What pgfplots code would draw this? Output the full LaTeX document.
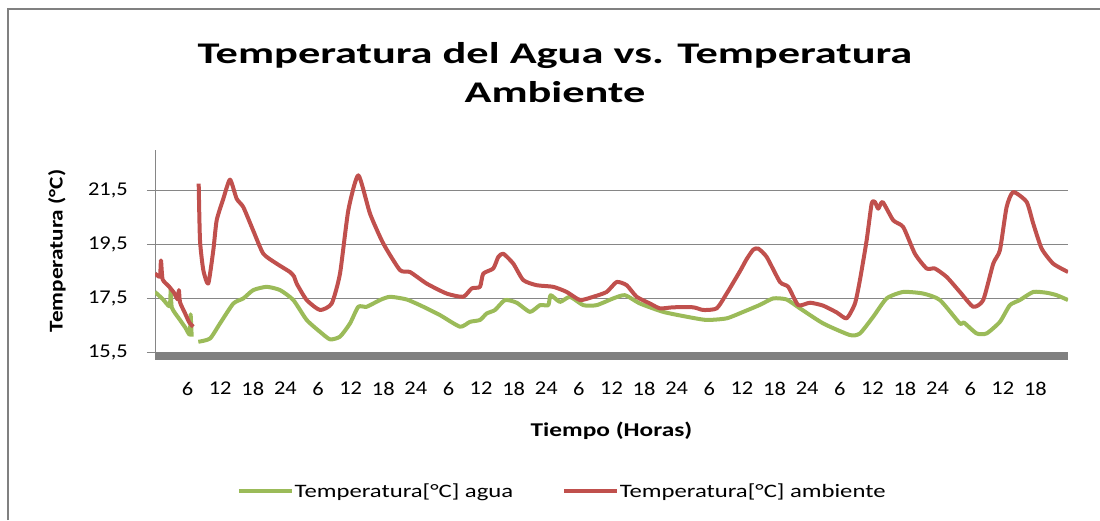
\documentclass[border=0pt]{standalone}
\usepackage{pgfplots}
\pgfplotsset{compat=1.18}
\usepackage{fontspec}
\setmainfont{Carlito}
\usepackage{graphicx}
\definecolor{agua}{RGB}{155,187,89}
\definecolor{amb}{RGB}{192,80,77}
\definecolor{gridc}{RGB}{134,134,134}
\definecolor{barc}{RGB}{128,128,128}
\newcommand\sx[1]{\scalebox{1.15}[1]{#1}}
\newcommand\slg[1]{\scalebox{1.3}[1]{#1}}
\begin{document}
\begin{tikzpicture}
\useasboundingbox (0pt,-520pt) rectangle (1100pt,0pt);
\draw[barc, line width=2pt] (8pt,-520pt) -- (8pt,-9pt) -- (1100pt,-9pt);
\node[font=\fontsize{30}{36}\selectfont\bfseries, anchor=base, inner sep=0pt] at (555pt,-63pt) {\scalebox{1.48}[1]{Temperatura del Agua vs. Temperatura}};
\node[font=\fontsize{30}{36}\selectfont\bfseries, anchor=base, inner sep=0pt] at (555pt,-102pt) {\scalebox{1.48}[1]{Ambiente}};
\begin{axis}[
  at={(155pt,-352pt)}, anchor=south west,
  width=913pt, height=202pt, scale only axis,
  xmin=0, xmax=168, ymin=15.5, ymax=23,
  axis x line*=bottom, axis y line*=left,
  axis line style={-},
  x axis line style={draw=none},
  y axis line style={gridc, line width=1pt},
  xtick={6,12,...,162},
  xticklabels={\sx{6},\sx{12},\sx{18},\sx{24},\sx{6},\sx{12},\sx{18},\sx{24},\sx{6},\sx{12},\sx{18},\sx{24},\sx{6},\sx{12},\sx{18},\sx{24},\sx{6},\sx{12},\sx{18},\sx{24},\sx{6},\sx{12},\sx{18},\sx{24},\sx{6},\sx{12},\sx{18}},
  ytick={15.5,17.5,19.5,21.5},
  yticklabels={\sx{15,5},\sx{17,5},\sx{19,5},\sx{21,5}},
  xtick style={draw=none},
  ytick style={gridc, line width=1pt},
  ytick align=outside, major tick length=8pt,
  ymajorgrids, grid style={gridc, line width=1pt},
  tick label style={font=\fontsize{19.5}{22}\selectfont, inner sep=0pt},
  yticklabel style={anchor=east, xshift=-19pt},
  xticklabel style={anchor=north, yshift=-30pt},
  xlabel={\slg{\textbf{Tiempo (Horas)}}},
  ylabel={\scalebox{1.19}[1]{\textbf{Temperatura (°C)}}},
  label style={font=\fontsize{19.5}{22}\selectfont},
  xlabel style={at={(axis description cs:0.5,-0.391)}, anchor=center},
  ylabel style={at={(axis description cs:-0.1073,0.5)}, anchor=center},
  unbounded coords=jump,
  legend style={at={(0.0898,-0.688)}, anchor=west, draw=none, fill=none,
    legend columns=2, inner sep=0pt, font=\fontsize{19}{22}\selectfont,
    nodes={inner sep=1pt},
    /tikz/every even column/.append style={column sep=48pt}},
  legend cell align=left,
  legend image code/.code={\draw[#1, line width=3.5pt] (0pt,0pt) -- (53pt,0pt);},
]
\addplot[agua, line width=4pt, line join=round, smooth, tension=0.35] coordinates {
(0,17.73) (1.5,17.45) (2.7,17.2) (2.9,17.85) (3.1,17.15) (4.6,16.69) (5.6,16.4) (6.4,16.15) (6.55,16.9) (6.75,16.07) (7.4,nan)
(7.97,15.88) (10.12,16.0) (11.96,16.56) (14.41,17.3) (16.25,17.49) (18.09,17.8) (20.55,17.92) (23.0,17.8) (25.45,17.43) (27.91,16.69) (30.36,16.25) (32.2,15.97) (34.04,16.07) (35.88,16.56) (37.41,17.18) (38.95,17.18) (41.4,17.43) (43.24,17.55) (46.31,17.45) (49.37,17.18) (52.44,16.87) (56.12,16.44) (57.96,16.62) (59.8,16.69) (61.03,16.93) (62.56,17.06) (64.4,17.43) (66.55,17.33) (69.0,16.99) (70.84,17.24) (72.37,17.24) (72.8,17.61) (74.52,17.36) (76.36,17.55) (78.8,17.24) (81.27,17.24) (84.32,17.49) (86.48,17.61) (89.24,17.3) (93.52,16.99) (97.83,16.81) (101.5,16.69) (105.19,16.75) (108.24,16.99) (111.31,17.25) (113.76,17.49) (116.22,17.45) (118.68,17.12) (122.96,16.56) (127.87,16.13) (129.71,16.19) (132.16,16.81) (134.63,17.49) (137.68,17.73) (141.36,17.67) (144.43,17.43) (148.11,16.56) (148.8,16.6) (151.18,16.19) (153.02,16.19) (155.47,16.62) (157.31,17.24) (159.15,17.43) (161.6,17.73) (164.07,17.7) (165.91,17.61) (168,17.43)
};
\addlegendentry{\slg{Temperatura[°C] agua}}
\addplot[amb, line width=4pt, line join=round, smooth, tension=0.35] coordinates {
(0,18.42) (0.9,18.3) (1.1,18.9) (1.4,18.2) (2.5,17.95) (3.5,17.7) (4.2,17.45) (4.4,17.8) (4.6,17.35) (5.5,16.95) (6.3,16.6) (7.05,16.44) (7.5,nan)
(8.04,21.75) (8.28,19.65) (8.89,18.54) (9.8,18.04) (10.73,19.28) (11.35,20.39) (12.57,21.19) (13.8,21.9) (15.03,21.19) (16.25,20.88) (18.09,20.0) (19.93,19.15) (22.39,18.78) (24.84,18.47) (25.6,18.3) (26.07,18.04) (27.91,17.43) (30.36,17.06) (32.51,17.3) (34.04,18.41) (35.57,20.76) (37.41,22.06) (39.56,20.64) (42.0,19.53) (45.08,18.54) (46.92,18.47) (49.99,18.04) (53.67,17.67) (56.72,17.55) (58.27,17.86) (59.8,17.92) (60.4,18.41) (62.24,18.6) (63.17,19.03) (64.09,19.15) (65.93,18.78) (67.76,18.17) (70.23,17.98) (73.28,17.92) (75.75,17.73) (78.2,17.43) (80.64,17.55) (83.11,17.73) (84.95,18.1) (86.79,17.98) (88.63,17.55) (91.08,17.3) (92.92,17.12) (95.36,17.16) (99.04,17.16) (100.88,17.06) (103.35,17.12) (105.19,17.67) (107.64,18.5) (108.87,18.95) (110.08,19.3) (111.0,19.34) (112.55,19.03) (115.0,18.1) (116.52,17.92) (118.36,17.24) (120.52,17.33) (122.96,17.22) (125.43,16.97) (127.27,16.75) (128.8,17.3) (129.71,18.17) (130.95,19.65) (131.87,21.01) (132.47,21.07) (133.08,20.82) (133.89,21.07) (135.84,20.39) (137.68,20.14) (139.83,19.15) (141.99,18.6) (143.51,18.6) (145.66,18.29) (148.11,17.73) (150.56,17.18) (152.4,17.43) (154.24,18.78) (155.47,19.28) (156.7,20.88) (157.92,21.44) (160.39,21.07) (161.6,20.27) (163.15,19.34) (165.28,18.78) (168,18.47)
};
\addlegendentry{\slg{Temperatura[°C] ambiente}}
\end{axis}
\draw[barc, line width=8pt] (155pt,-356pt) -- (1068pt,-356pt);
\end{tikzpicture}
\end{document}
